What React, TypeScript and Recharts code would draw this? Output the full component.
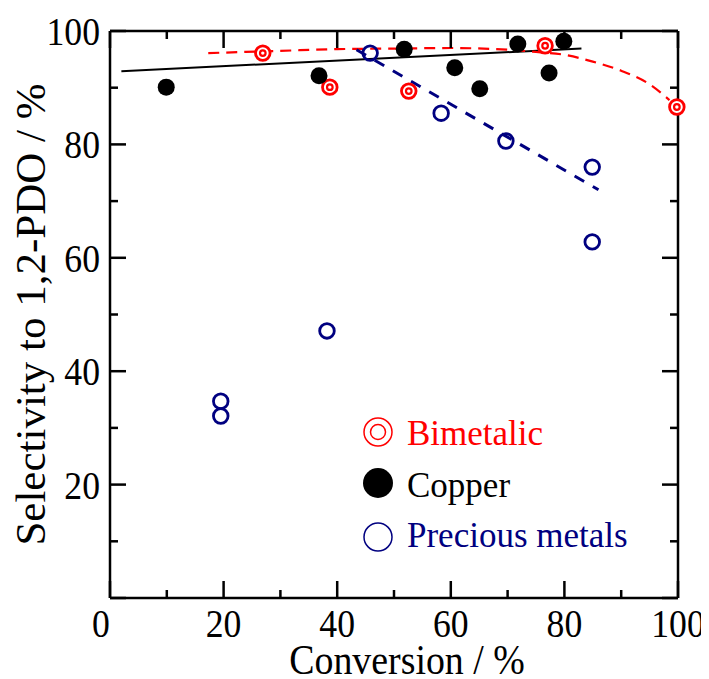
import React from "react";
import { ComposedChart, Scatter, Line, XAxis, YAxis, ReferenceLine, Legend, Label } from "recharts";

// conversion (%) vs selectivity to 1,2-PDO (%)
const bimetalic = [
  { x: 26.9, y: 96.1 },
  { x: 38.7, y: 90.1 },
  { x: 52.6, y: 89.4 },
  { x: 76.6, y: 97.4 },
  { x: 99.8, y: 86.6 },
];

const copper = [
  { x: 9.9, y: 90.1 },
  { x: 36.8, y: 92.1 },
  { x: 51.8, y: 96.8 },
  { x: 60.7, y: 93.5 },
  { x: 65.1, y: 89.8 },
  { x: 71.8, y: 97.7 },
  { x: 77.3, y: 92.6 },
  { x: 79.9, y: 98.2 },
];

const precious = [
  { x: 45.8, y: 96.1 },
  { x: 58.3, y: 85.5 },
  { x: 69.7, y: 80.6 },
  { x: 84.9, y: 76.0 },
  { x: 84.9, y: 62.8 },
  { x: 38.2, y: 47.1 },
  { x: 19.5, y: 34.7 },
  { x: 19.5, y: 32.1 },
];

// trend lines
const copperFit = [
  { x: 2.0, y: 92.9 },
  { x: 83.0, y: 96.9 },
];

const bimetalicFit = [
  { x: 17.3, y: 96.1 },
  { x: 30, y: 96.5 },
  { x: 40, y: 96.8 },
  { x: 50, y: 96.9 },
  { x: 60, y: 97.0 },
  { x: 70, y: 96.7 },
  { x: 75, y: 96.3 },
  { x: 80, y: 95.8 },
  { x: 85, y: 94.6 },
  { x: 90, y: 93.0 },
  { x: 95, y: 90.6 },
  { x: 98.5, y: 87.8 },
];

const preciousFit = [
  { x: 43.4, y: 96.7 },
  { x: 86.0, y: 72.0 },
];

const xTicks = [0, 10, 20, 30, 40, 50, 60, 70, 80, 90, 100];
const yTicks = [0, 10, 20, 30, 40, 50, 60, 70, 80, 90, 100];
const xTickLabels = [0, 20, 40, 60, 80, 100];
const yTickLabels = [20, 40, 60, 80, 100];

const W = 700;
const H = 670;
const Y_AXIS_W = 102;
const X_AXIS_H = 80;
const MARGIN = { top: 23, right: 30, left: 0, bottom: 0 };
const PL = Y_AXIS_W;
const PR = W - MARGIN.right;
const PT = MARGIN.top;
const PB = H - X_AXIS_H;

const serif = { fontFamily: "Liberation Serif" };
const RED = "#ff0000";
const NAVY = "#000080";

const YTick = (props: any) => {
  const v = props.payload.value;
  const c = props.y;
  const len = v % 20 === 0 ? 16 : 8;
  return (
    <g>
      <line x1={PL} x2={PL + len} y1={c} y2={c} stroke="#000" strokeWidth={2.5} />
      <line x1={PR - len} x2={PR} y1={c} y2={c} stroke="#000" strokeWidth={2.5} />
      {yTickLabels.includes(v) && (
        <text transform={`translate(${PL - 10},${c + 14}) scale(0.87,1)`} textAnchor="end" fontSize={41} style={serif} fill="#000">
          {v}
        </text>
      )}
    </g>
  );
};

const XTick = (props: any) => {
  const v = props.payload.value;
  const c = props.x;
  const len = v % 20 === 0 ? 17 : 8;
  const shift = v === 0 ? -9 : 0;
  return (
    <g>
      <line x1={c} x2={c} y1={PB} y2={PB - len} stroke="#000" strokeWidth={2.5} />
      <line x1={c} x2={c} y1={PT} y2={PT + len} stroke="#000" strokeWidth={2.5} />
      {xTickLabels.includes(v) && (
        <text transform={`translate(${c + shift},${PB + 39}) scale(0.87,1)`} textAnchor="middle" fontSize={41} style={serif} fill="#000">
          {v}
        </text>
      )}
    </g>
  );
};

const BimetalicDot = (p: any) => (
  <g>
    <circle cx={p.cx} cy={p.cy} r={7.3} fill="#fff" stroke={RED} strokeWidth={2.8} />
    <circle cx={p.cx} cy={p.cy} r={2.8} fill="#fff" stroke={RED} strokeWidth={2.2} />
  </g>
);

const CopperDot = (p: any) => <circle cx={p.cx} cy={p.cy} r={8.5} fill="#000" />;

const PreciousDot = (p: any) => <circle cx={p.cx} cy={p.cy} r={7.3} fill="none" stroke={NAVY} strokeWidth={2.8} />;

const LegendBox = () => (
  <svg width={320} height={160}>
    <circle cx={23} cy={27} r={14} fill="none" stroke={RED} strokeWidth={1.5} />
    <circle cx={23} cy={27} r={7.5} fill="none" stroke={RED} strokeWidth={1.5} />
    <text x={52} y={40} fontSize={35} style={serif} fill={RED}>Bimetalic</text>
    <circle cx={23} cy={78} r={15} fill="#000" />
    <text x={52} y={92} fontSize={35} style={serif} fill="#000">Copper</text>
    <circle cx={23} cy={132} r={14} fill="none" stroke={NAVY} strokeWidth={1.5} />
    <text x={52} y={142} fontSize={35} style={serif} fill={NAVY}>Precious metals</text>
  </svg>
);

export default function App() {
  return (
    <div style={{ width: W, height: H }}>
      <ComposedChart width={W} height={H} margin={MARGIN}>
        <XAxis
          dataKey="x"
          type="number"
          domain={[0, 100]}
          ticks={xTicks}
          interval={0}
          height={X_AXIS_H}
          axisLine={{ stroke: "#000", strokeWidth: 2.5 }}
          tickLine={false}
          tick={<XTick />}
        >
          <Label
            content={(lp: any) => {
              const vb = lp.viewBox;
              return (
                <text transform={`translate(${vb.x + vb.width / 2 + 13},${vb.y + 76}) scale(0.88,1)`} textAnchor="middle" fontSize={43} style={serif} fill="#000">
                  Conversion / %
                </text>
              );
            }}
          />
        </XAxis>
        <YAxis
          dataKey="y"
          type="number"
          domain={[0, 100]}
          ticks={yTicks}
          interval={0}
          width={Y_AXIS_W}
          axisLine={{ stroke: "#000", strokeWidth: 2.5 }}
          tickLine={false}
          tick={<YTick />}
        >
          <Label
            content={(lp: any) => {
              const vb = lp.viewBox;
              const cy = vb.y + vb.height / 2;
              return (
                <text transform={`translate(37,${cy}) rotate(-90)`} textAnchor="middle" fontSize={43} style={serif} fill="#000">
                  Selectivity to 1,2-PDO / %
                </text>
              );
            }}
          />
        </YAxis>
        <ReferenceLine y={100} stroke="#000" strokeWidth={2.5} />
        <ReferenceLine x={100} stroke="#000" strokeWidth={2.5} />
        <Line data={copperFit} dataKey="y" type="linear" stroke="#000" strokeWidth={2} dot={false} isAnimationActive={false} legendType="none" />
        <Line data={bimetalicFit} dataKey="y" type="monotone" stroke={RED} strokeWidth={2.2} strokeDasharray="11 7" dot={false} isAnimationActive={false} legendType="none" />
        <Line data={preciousFit} dataKey="y" type="linear" stroke={NAVY} strokeWidth={3} strokeDasharray="11 10" dot={false} isAnimationActive={false} legendType="none" />
        <Scatter name="Bimetalic" data={bimetalic} dataKey="y" shape={BimetalicDot} isAnimationActive={false} />
        <Scatter name="Copper" data={copper} dataKey="y" shape={CopperDot} isAnimationActive={false} />
        <Scatter name="Precious metals" data={precious} dataKey="y" shape={PreciousDot} isAnimationActive={false} />
        <Legend
          layout="vertical"
          align="center"
          verticalAlign="middle"
          content={LegendBox}
          wrapperStyle={{ position: "absolute", left: 347, top: 397, width: 320, height: 160 }}
        />
      </ComposedChart>
    </div>
  );
}
